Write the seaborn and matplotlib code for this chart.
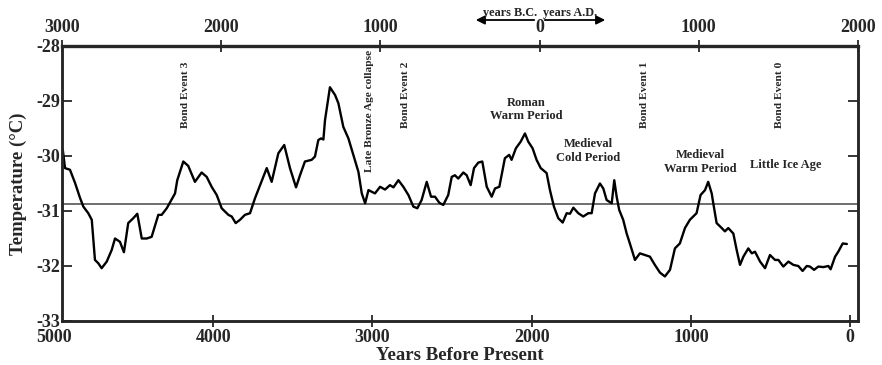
import matplotlib
matplotlib.use("Agg")
import matplotlib.pyplot as plt
import seaborn as sns
import pandas as pd

# GISP2 central Greenland temperature reconstruction (years before present, deg C)
years_bp = [4945, 4931, 4900, 4868, 4837, 4816, 4785, 4763, 4743, 4722, 4701, 4669,
            4638, 4617, 4586, 4561, 4534, 4502, 4477, 4449, 4418, 4387, 4345, 4324,
            4292, 4240, 4226, 4188, 4157, 4115, 4073, 4041, 4010, 3978, 3947, 3905,
            3884, 3859, 3832, 3801, 3769, 3738, 3706, 3664, 3633, 3591, 3554, 3518,
            3480, 3455, 3424, 3382, 3361, 3340, 3323, 3308, 3298, 3267, 3235, 3214,
            3183, 3151, 3120, 3088, 3067, 3046, 3025, 2984, 2952, 2921, 2890, 2868,
            2837, 2806, 2774, 2743, 2718, 2691, 2659, 2632, 2607, 2580, 2555, 2524,
            2502, 2482, 2461, 2429, 2408, 2383, 2362, 2335, 2310, 2282, 2251, 2230,
            2203, 2168, 2141, 2126, 2099, 2069, 2042, 2021, 1994, 1969, 1943, 1906,
            1885, 1860, 1833, 1805, 1780, 1759, 1738, 1707, 1676, 1644, 1623, 1602,
            1571, 1550, 1529, 1497, 1487, 1481, 1466, 1450, 1425, 1403, 1383, 1351,
            1320, 1289, 1257, 1226, 1194, 1163, 1131, 1100, 1069, 1037, 1006, 985,
            964, 939, 911, 891, 869, 859, 838, 806, 786, 765, 733, 712,
            691, 670, 639, 617, 597, 565, 534, 503, 471, 450, 419, 387,
            356, 325, 298, 272, 252, 226, 199, 168, 136, 122, 94, 74,
            46, 20]
temperature = [-29.89, -30.22, -30.25, -30.49, -30.76, -30.92, -31.04, -31.16, -31.89, -31.95, -32.04, -31.92,
               -31.71, -31.50, -31.56, -31.75, -31.22, -31.13, -31.05, -31.50, -31.50, -31.47, -31.07, -31.07,
               -30.95, -30.68, -30.44, -30.10, -30.18, -30.47, -30.30, -30.38, -30.56, -30.71, -30.95, -31.07,
               -31.10, -31.22, -31.16, -31.07, -31.04, -30.77, -30.53, -30.22, -30.47, -29.95, -29.80, -30.22,
               -30.57, -30.35, -30.10, -30.07, -30.01, -29.71, -29.68, -29.70, -29.35, -28.75, -28.89, -29.04,
               -29.47, -29.68, -29.98, -30.29, -30.68, -30.86, -30.62, -30.68, -30.56, -30.61, -30.53, -30.57,
               -30.44, -30.56, -30.71, -30.92, -30.95, -30.80, -30.47, -30.74, -30.74, -30.85, -30.89, -30.71,
               -30.38, -30.35, -30.41, -30.30, -30.35, -30.53, -30.22, -30.12, -30.10, -30.56, -30.74, -30.59,
               -30.56, -30.04, -29.98, -30.07, -29.86, -29.74, -29.59, -29.74, -29.86, -30.07, -30.22, -30.31,
               -30.62, -30.92, -31.13, -31.21, -31.04, -31.05, -30.94, -31.04, -31.10, -31.04, -31.04, -30.68,
               -30.50, -30.59, -30.80, -30.86, -30.59, -30.44, -30.74, -30.98, -31.16, -31.41, -31.59, -31.89,
               -31.77, -31.80, -31.83, -31.98, -32.12, -32.19, -32.07, -31.68, -31.59, -31.31, -31.16, -31.10,
               -31.04, -30.71, -30.62, -30.47, -30.68, -30.86, -31.22, -31.31, -31.37, -31.31, -31.41, -31.71,
               -31.98, -31.83, -31.68, -31.77, -31.74, -31.92, -32.04, -31.80, -31.89, -31.89, -32.01, -31.92,
               -31.98, -32.00, -32.09, -32.00, -32.01, -32.07, -32.01, -32.02, -32.00, -32.06, -31.83, -31.74,
               -31.59, -31.60]
mean_temperature = -30.87

bp_ticks = [4000, 3000, 2000, 1000, 0]
bp_edge_label = 5000
calendar_ticks = [-3000, -2000, -1000, 0, 1000, 2000]
temp_ticks = [-33, -32, -31, -30, -29, -28]

# Climate episodes
events = ["Bond Event 3", "Late Bronze Age collapse", "Bond Event 2",
          "Bond Event 1", "Bond Event 0"]
event_bp = [4172, 3018, 2792, 1292, 445]
event_top = [-28.29, -28.07, -28.29, -28.29, -28.29]
periods = ["Roman\nWarm Period", "Medieval\nCold Period",
           "Medieval\nWarm Period", "Little Ice Age"]
period_bp = [2033, 1644, 941, 402]
period_temp = [-29.16, -29.91, -30.11, -30.17]

sns.set_style("ticks")
plt.rcParams["font.family"] = ["Liberation Serif", "DejaVu Serif"]
plt.rcParams["font.weight"] = "bold"

fig = plt.figure(figsize=(8.82, 3.65), dpi=100)
ax = fig.add_axes([62 / 882, 1 - 321 / 365, 796 / 882, 275 / 365])

df = pd.DataFrame({"bp": years_bp, "temp": temperature})
sns.lineplot(data=df, x="bp", y="temp", ax=ax, color="black", lw=1.7,
             estimator=None, sort=False)
ax.axhline(mean_temperature, color="#555555", lw=1.2, zorder=1)

ax.set_xticks(bp_ticks)
ax.set_xticklabels([str(t) for t in bp_ticks], fontsize=13, fontweight="bold")
ax.set_yticks(temp_ticks)
ax.set_yticklabels([str(t) for t in temp_ticks], fontsize=13, fontweight="bold")
ax.set_xlim(4950, -50)
ax.set_ylim(-33, -28)
ax.tick_params(axis="x", direction="inout", length=9, width=1.3, pad=1)
ax.tick_params(axis="y", direction="in", length=7, width=1.3, pad=1,
               right=True, labelright=False)
for s in ax.spines.values():
    s.set_linewidth(1.8)
    s.set_visible(True)

# the 5000 BP label sits just outside the left edge of the record
ax.annotate(str(bp_edge_label), xy=(bp_edge_label, 0),
            xycoords=("data", "axes fraction"), xytext=(0, -5.5),
            textcoords="offset points", ha="center", va="top",
            fontsize=13, fontweight="bold", annotation_clip=False)

ax.set_xlabel("Years Before Present", fontsize=13.5, fontweight="bold", labelpad=1)
ax.set_ylabel("Temperature (°C)", fontsize=13.5, fontweight="bold", labelpad=7)

# Calendar years along the top
top = ax.twiny()
top.set_xlim(-3000, 2000)
top.set_xticks(calendar_ticks)
top.set_xticklabels([str(abs(t)) for t in calendar_ticks], fontsize=13, fontweight="bold")
top.tick_params(axis="x", direction="inout", length=9, width=1.3, pad=3)
for s in top.spines.values():
    s.set_linewidth(1.8)
top.spines["top"].set_linewidth(2.4)

for label, bp, t in zip(events, event_bp, event_top):
    ax.text(bp, t, label, rotation=90, ha="center", va="top",
            fontsize=8.2, fontweight="bold")
for label, bp, t in zip(periods, period_bp, period_temp):
    ax.text(bp, t, label, ha="center", va="center", fontsize=9,
            fontweight="bold", linespacing=1.15)

# Era direction arrows
fig.text(510 / 882, 1 - 13 / 365, "years B.C.", ha="center", va="center",
         fontsize=8.8, fontweight="bold")
fig.text(570 / 882, 1 - 13 / 365, "years A.D.", ha="center", va="center",
         fontsize=8.8, fontweight="bold")
fig.add_artist(matplotlib.patches.FancyArrowPatch(
    (537 / 882, 1 - 20 / 365), (473 / 882, 1 - 20 / 365),
    transform=fig.transFigure, arrowstyle="-|>", mutation_scale=13,
    lw=1.3, color="black"))
fig.add_artist(matplotlib.patches.FancyArrowPatch(
    (542 / 882, 1 - 20 / 365), (608 / 882, 1 - 20 / 365),
    transform=fig.transFigure, arrowstyle="-|>", mutation_scale=13,
    lw=1.3, color="black"))

fig.savefig("out.png", dpi=100)
